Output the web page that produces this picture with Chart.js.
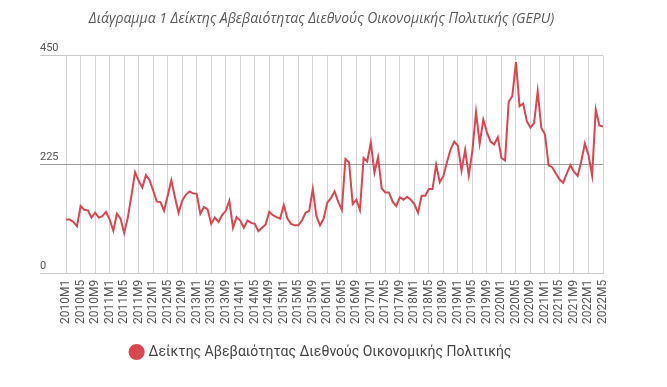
<!DOCTYPE html>
<html lang="el">
<head>
<meta charset="utf-8">
<title>GEPU</title>
<script src="https://cdn.jsdelivr.net/npm/chart.js@4.4.0/dist/chart.umd.min.js"></script>
<style>
  html, body { margin: 0; padding: 0; background: #fff; }
  #wrap { width: 667px; height: 387px; position: relative; }
</style>
</head>
<body>
<div id="wrap"><canvas id="chart"></canvas></div>
<script>
// ── data: monthly GEPU, 2010M1 .. 2022M5 (149 months) ──
const gepuValues = [
  112, 112, 107,  98, 140, 132, 131, 116, 126, 116, 119, 128,   // 2010
  112,  89, 124, 114,  84, 116, 161, 210, 192, 178, 204, 193,   // 2011
  172, 149, 148, 130, 161, 193, 158, 126, 151, 163, 170, 166,   // 2012
  165, 124, 138, 133, 103, 116, 107, 121, 130, 151,  95, 117,   // 2013
  110,  95, 110, 105, 103,  88,  95, 102, 128, 121, 117, 114,   // 2014
  142, 114, 103, 100, 100, 110, 126, 130, 175, 119, 100, 114,   // 2015
  147, 156, 170, 149, 132, 237, 230, 144, 153, 132, 239, 232,   // 2016
  271, 209, 241, 176, 168, 168, 149, 140, 158, 153, 159, 153,   // 2017
  144, 126, 161, 161, 175, 175, 225, 189, 202, 231, 257, 273,   // 2018
  264, 213, 256, 203, 255, 334, 269, 318, 292, 273, 267, 282,   // 2019
  239, 234, 355, 367, 437, 346, 351, 315, 302, 311, 377, 301,   // 2020
  288, 224, 220, 207, 195, 188, 207, 224, 211, 202, 232, 269,   // 2021
  245, 203, 339, 306, 304                                       // 2022
];

// x tick labels, one every 4 months
const tickLabels = [
  '2010M1', '2010M5', '2010M9', '2011M1', '2011M5', '2011M9',
  '2012M1', '2012M5', '2012M9', '2013M1', '2013M5', '2013M9',
  '2014M1', '2014M5', '2014M9', '2015M1', '2015M5', '2015M9',
  '2016M1', '2016M5', '2016M9', '2017M1', '2017M5', '2017M9',
  '2018M1', '2018M5', '2018M9', '2019M1', '2019M5', '2019M9',
  '2020M1', '2020M5', '2020M9', '2021M1', '2021M5', '2021M9',
  '2022M1', '2022M5'
];
const tickStep = 4;

const yTicks = [0, 225, 450];

const titleText  = 'Διάγραμμα 1 Δείκτης Αβεβαιότητας Διεθνούς Οικονομικής Πολιτικής (GEPU)';
const seriesName = 'Δείκτης Αβεβαιότητας Διεθνούς Οικονομικής Πολιτικής';
const lineColor  = '#d8464f';

// horizontal grid: middle line darker, like the original
const yGridColor = ctx => ctx.tick && ctx.tick.value === 225 ? '#9a9a9a' : '#c8c8c8';

new Chart(document.getElementById('chart'), {
  type: 'line',
  data: {
    datasets: [{
      label: seriesName,
      data: gepuValues.map((v, i) => ({ x: i, y: v })),
      borderColor: lineColor,
      backgroundColor: lineColor,
      borderWidth: 2,
      pointRadius: 0,
      pointStyle: 'circle',
      tension: 0,
      fill: false
    }]
  },
  options: {
    responsive: true,
    maintainAspectRatio: false,
    animation: false,
    devicePixelRatio: 1,
    layout: { padding: { left: 40, right: 64, top: 0, bottom: 18 } },
    plugins: {
      title: {
        display: true,
        text: titleText,
        color: '#595959',
        font: { family: 'Open Sans', size: 14, style: 'italic', weight: 'normal' },
        padding: { top: 11, bottom: 28 }
      },
      legend: {
        position: 'bottom',
        labels: {
          usePointStyle: true,
          boxWidth: 10,
          boxHeight: 10,
          color: '#444',
          font: { family: 'Roboto', size: 14 },
          padding: 15
        }
      },
      tooltip: { enabled: false }
    },
    scales: {
      x: {
        type: 'linear',
        min: -7.2,
        max: (tickLabels.length - 1) * tickStep,
        afterBuildTicks: axis => {
          axis.ticks = tickLabels.map((_, k) => ({ value: k * tickStep }));
        },
        grid: { color: '#d4d4d4', drawTicks: false },
        border: { display: false },
        ticks: {
          autoSkip: false,
          minRotation: 90,
          maxRotation: 90,
          padding: 6,
          color: '#555',
          font: { family: 'Roboto', size: 12 },
          callback: v => tickLabels[v / tickStep]
        }
      },
      y: {
        min: yTicks[0],
        max: yTicks[yTicks.length - 1],
        afterBuildTicks: axis => {
          axis.ticks = yTicks.map(v => ({ value: v }));
        },
        grid: { color: yGridColor, drawTicks: false },
        border: { display: false },
        ticks: {
          mirror: true,
          crossAlign: 'near',
          padding: 0,
          labelOffset: -8,
          color: '#555',
          font: { family: 'Roboto', size: 11 }
        }
      }
    }
  }
});
</script>
</body>
</html>
